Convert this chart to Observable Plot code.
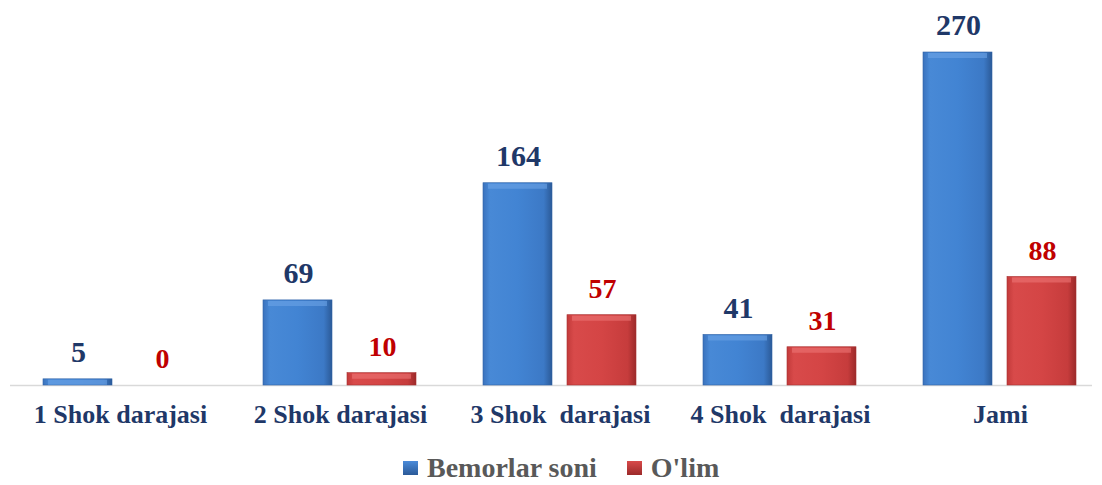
<!DOCTYPE html>
<html>
<head>
<meta charset="utf-8">
<script src="https://cdn.jsdelivr.net/npm/d3@7"></script>
<script src="https://cdn.jsdelivr.net/npm/@observablehq/plot@0.6"></script>
<style>
  body { margin: 0; background: #fff; font-family: "Liberation Serif", "Times New Roman", serif; }
  #legend { display: flex; align-items: center; height: 46px; margin-left: 403px; font-weight: bold; font-size: 28px; color: #595959; }
  .sw { width: 15px; height: 14px; display: inline-block; margin-right: 9px; }
  .item { display: flex; align-items: center; margin-right: 30px; }
</style>
</head>
<body>
<div id="chart"></div>
<div id="legend"></div>
<script>
const categories = ["1 Shok darajasi", "2 Shok darajasi", "3 Shok  darajasi", "4 Shok  darajasi", "Jami"];
const bemorlar = [5, 69, 164, 41, 270];
const olim = [0, 10, 57, 31, 88];
const seriesNames = ["Bemorlar soni", "O'lim"];

const blueData = categories.map((c, i) => ({category: c, value: bemorlar[i]}));
const redData = categories.map((c, i) => ({category: c, value: olim[i]}));

function defs() {
  const d = d3.create("svg:defs");
  const mk = (id, stops) => {
    const g = d.append("linearGradient").attr("id", id).attr("x1", "0").attr("x2", "1").attr("y1", "0").attr("y2", "0");
    stops.forEach(([o, c]) => g.append("stop").attr("offset", o).attr("stop-color", c));
  };
  mk("gBlue", [["0", "#3a72bd"], ["0.1", "#4889d6"], ["0.5", "#4284d3"], ["0.88", "#3c79c6"], ["1", "#2b5a98"]]);
  mk("gRed", [["0", "#c23a3a"], ["0.1", "#d84a4a"], ["0.5", "#d44545"], ["0.88", "#c63c3c"], ["1", "#9c2a2a"]]);
  return d.node();
}

const blueInset = {insetLeft: 33, insetRight: 118};
const redInset = {insetLeft: 117, insetRight: 34};

const chart = Plot.plot({
  width: 1102,
  height: 445,
  marginLeft: 10,
  marginRight: 10,
  marginTop: 15,
  marginBottom: 60,
  x: {domain: categories, range: [10, 1110], padding: 0, axis: null},
  y: {domain: [0, 300], range: [385, 15], axis: null},
  style: {fontFamily: "Liberation Serif, Times New Roman, serif", background: "white"},
  marks: [
    defs,
    Plot.ruleY([0], {stroke: "#d9d9d9", strokeWidth: 1.5}),
    Plot.barY(blueData, {x: "category", y: "value", fill: "url(#gBlue)", stroke: "#2f62a6", strokeWidth: 0.6, ...blueInset}),
    Plot.barY(redData.filter(d => d.value > 0), {x: "category", y: "value", fill: "url(#gRed)", stroke: "#a83030", strokeWidth: 0.6, ...redInset}),
    Plot.tickY(blueData, {x: "category", y: "value", dy: 3, stroke: "#6da3e6", strokeOpacity: 0.6, strokeWidth: 5, insetLeft: 38, insetRight: 123}),
    Plot.tickY(redData.filter(d => d.value > 0), {x: "category", y: "value", dy: 3, stroke: "#ec7474", strokeOpacity: 0.6, strokeWidth: 5, insetLeft: 122, insetRight: 39}),
    Plot.text(blueData, {x: "category", y: "value", text: d => String(d.value), dx: -42, dy: -27, lineAnchor: "middle", fill: "#1f3868", fontSize: 30, fontWeight: "bold"}),
    Plot.text(redData, {x: "category", y: "value", text: d => String(d.value), dx: 42, dy: -26, lineAnchor: "middle", fill: "#c00000", fontSize: 28, fontWeight: "bold"}),
    Plot.text(categories, {x: d => d, y: () => 0, text: d => d, dy: 29, lineAnchor: "middle", fill: "#1f3868", fontSize: 26, fontWeight: "bold", letterSpacing: "0.3px"})
  ]
});
document.getElementById("chart").appendChild(chart);

const legendColors = [["#4b8bd9", "#2b5a98"], ["#d84a4a", "#9c2a2a"]];
const leg = document.getElementById("legend");
seriesNames.forEach((name, i) => {
  const it = document.createElement("span");
  it.className = "item";
  const sw = document.createElement("span");
  sw.className = "sw";
  sw.style.background = `linear-gradient(to bottom, ${legendColors[i][0]}, ${legendColors[i][1]})`;
  it.appendChild(sw);
  it.appendChild(document.createTextNode(name));
  leg.appendChild(it);
});
</script>
</body>
</html>
